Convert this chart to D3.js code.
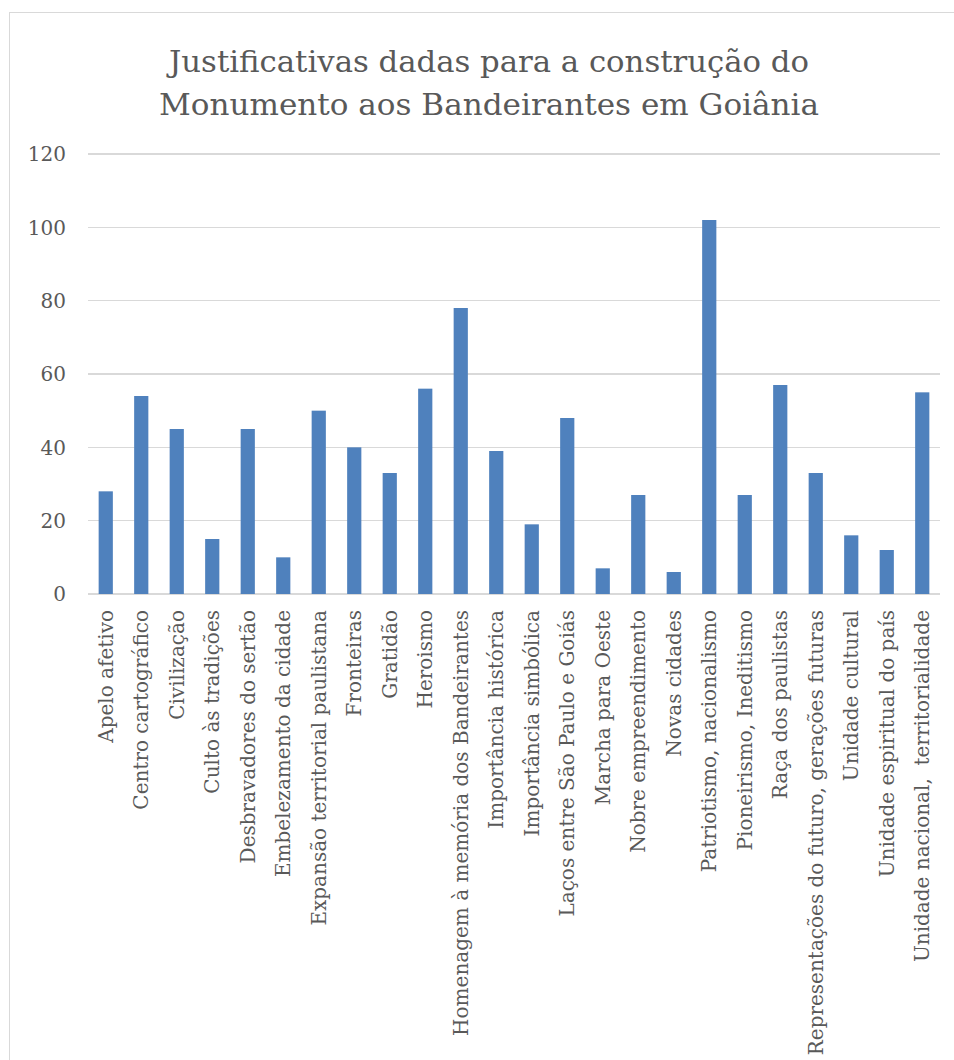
<!DOCTYPE html>
<meta charset="utf-8">
<style>
  body { margin: 0; background: #fff; }
  svg { display: block; }
  .grid line { stroke: #d9d9d9; stroke-width: 1.3; shape-rendering: crispEdges; }
  .tick-label, .cat-label { font-family: "DejaVu Serif", serif; font-size: 20px; fill: #595959; }
  .title { font-family: "DejaVu Serif", serif; font-size: 30px; fill: #595959; }
  .frame { fill: none; stroke: #d9d9d9; stroke-width: 1; }
  .bar { fill: #4f81bd; }
</style>
<body>
<script src="https://cdn.jsdelivr.net/npm/d3@7"></script>
<script>
  var categories = [
    "Apelo afetivo", "Centro cartográfico", "Civilização", "Culto às tradições",
    "Desbravadores do sertão", "Embelezamento da cidade", "Expansão territorial paulistana",
    "Fronteiras", "Gratidão", "Heroismo", "Homenagem à memória dos Bandeirantes",
    "Importância histórica", "Importância simbólica", "Laços entre São Paulo e Goiás",
    "Marcha para Oeste", "Nobre empreendimento", "Novas cidades",
    "Patriotismo, nacionalismo", "Pioneirismo, Ineditismo", "Raça dos paulistas",
    "Representações do futuro, gerações futuras", "Unidade cultural",
    "Unidade espiritual do país", "Unidade nacional,  territorialidade"
  ];
  var values = [28, 54, 45, 15, 45, 10, 50, 40, 33, 56, 78, 39, 19, 48, 7, 27, 6, 102, 27, 57, 33, 16, 12, 55];
  var yTicks = [0, 20, 40, 60, 80, 100, 120];
  var titleLines = ["Justificativas dadas para a construção do", "Monumento aos Bandeirantes em Goiânia"];

  var width = 954, height = 1060;
  // plot area
  var plotLeft = 88, plotRight = 940, plotTop = 154, plotBottom = 594;

  var svg = d3.select("body").append("svg")
    .attr("width", width)
    .attr("height", height);

  // chart border
  svg.append("rect")
    .attr("class", "frame")
    .attr("x", 9.5)
    .attr("y", 12.5)
    .attr("width", width + 20)
    .attr("height", height + 20);

  var titleWidths = [640, 660];
  svg.selectAll(".title")
    .data(titleLines)
    .enter().append("text")
    .attr("class", "title")
    .attr("x", 489)
    .attr("y", function (d, i) { return 72 + i * 43; })
    .attr("text-anchor", "middle")
    .attr("textLength", function (d, i) { return titleWidths[i]; })
    .attr("lengthAdjust", "spacingAndGlyphs")
    .text(function (d) { return d; });

  var x = d3.scaleBand()
    .domain(categories)
    .range([plotLeft, plotRight])
    .paddingInner(0.6)
    .paddingOuter(0.3);

  var y = d3.scaleLinear()
    .domain([0, 120])
    .range([plotBottom, plotTop]);

  // gridlines
  var grid = svg.append("g").attr("class", "grid");
  grid.selectAll("line")
    .data(yTicks)
    .enter().append("line")
    .attr("x1", plotLeft)
    .attr("x2", plotRight)
    .attr("y1", function (d) { return y(d); })
    .attr("y2", function (d) { return y(d); });

  svg.selectAll(".tick-label")
    .data(yTicks)
    .enter().append("text")
    .attr("class", "tick-label")
    .attr("x", 66)
    .attr("y", function (d) { return y(d); })
    .attr("dy", "0.36em")
    .attr("text-anchor", "end")
    .text(function (d) { return d; });

  svg.selectAll(".bar")
    .data(values)
    .enter().append("rect")
    .attr("class", "bar")
    .attr("x", function (d, i) { return x(categories[i]); })
    .attr("y", function (d) { return y(d); })
    .attr("width", x.bandwidth())
    .attr("height", function (d) { return y(0) - y(d); });

  svg.selectAll(".cat-label")
    .data(categories)
    .enter().append("text")
    .attr("class", "cat-label")
    .attr("transform", function (d) {
      var cx = x(d) + x.bandwidth() / 2;
      return "translate(" + cx + ",610) rotate(-90)";
    })
    .attr("dy", "0.35em")
    .attr("text-anchor", "end")
    .style("white-space", "pre")
    .text(function (d) { return d; });
</script>
</body>
